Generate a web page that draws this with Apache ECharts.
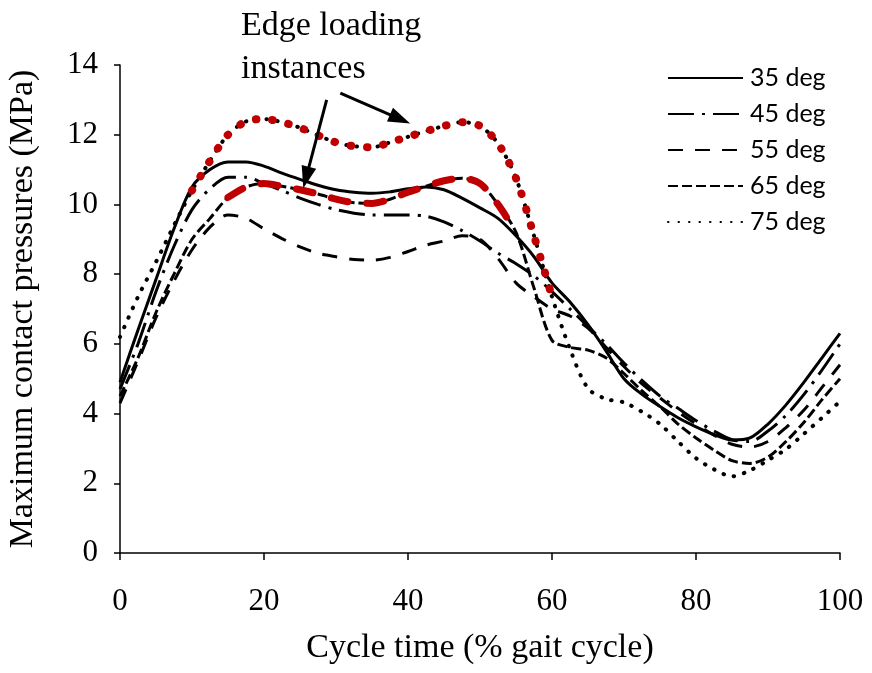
<!DOCTYPE html>
<html>
<head>
<meta charset="utf-8">
<script src="https://cdn.jsdelivr.net/npm/echarts@6/dist/echarts.min.js"></script>
<style>
html,body{margin:0;padding:0;background:#fff;}
#chart{width:872px;height:673px;}
</style>
</head>
<body>
<div id="chart"></div>
<script>
// Cycle time (% gait cycle)
const xs = [0,2.5,5,7.5,10,12.5,15,17.5,20,22.5,25,27.5,30,32.5,35,37.5,40,42.5,45,47.5,50,52.5,55,57.5,60,62.5,65,67.5,70,72.5,75,77.5,80,82.5,85,87.5,90,92.5,95,97.5,100];
// Maximum contact pressures (MPa)
const deg35 = [4.9,6.4,7.85,9.3,10.5,11.0,11.22,11.22,11.1,10.9,10.72,10.55,10.42,10.35,10.32,10.36,10.45,10.5,10.42,10.18,9.9,9.6,9.1,8.5,7.75,7.2,6.55,5.8,5.0,4.55,4.2,3.88,3.62,3.4,3.24,3.3,3.7,4.25,4.9,5.6,6.3];
const deg45 = [4.7,6.0,7.5,8.8,9.85,10.45,10.78,10.78,10.6,10.4,10.18,10.0,9.85,9.75,9.7,9.7,9.7,9.66,9.5,9.25,8.95,8.6,8.3,7.95,7.5,7.0,6.5,6.0,5.45,4.95,4.5,4.15,3.8,3.5,3.25,3.2,3.5,3.95,4.55,5.25,6.0];
const deg55 = [4.3,5.5,6.75,7.8,8.7,9.35,9.7,9.6,9.3,9.02,8.78,8.6,8.5,8.42,8.4,8.48,8.65,8.83,8.95,9.1,9.0,8.45,7.75,7.35,7.0,6.8,6.45,5.9,5.35,4.85,4.45,4.05,3.7,3.38,3.12,3.04,3.2,3.6,4.1,4.75,5.4];
const deg65 = [4.5,5.6,6.9,8.0,9.0,9.6,10.2,10.5,10.6,10.52,10.42,10.3,10.15,10.05,10.03,10.15,10.35,10.52,10.68,10.75,10.6,10.0,9.2,7.6,6.1,5.9,5.82,5.6,5.15,4.65,4.2,3.7,3.3,2.95,2.65,2.57,2.75,3.2,3.75,4.4,5.0];
const deg75 = [6.2,7.35,8.35,9.4,10.4,11.25,12.0,12.38,12.45,12.36,12.2,11.98,11.78,11.67,11.64,11.78,11.94,12.1,12.25,12.36,12.25,11.75,10.75,9.1,7.35,5.85,4.72,4.42,4.32,4.05,3.7,3.2,2.72,2.4,2.2,2.37,2.66,2.98,3.42,3.88,4.35];
const seriesNames = ['35 deg','45 deg','55 deg','65 deg','75 deg'];
// Edge loading ranges (x) highlighted in red
const edge65Range = [15, 55];
const edge75Range = [10, 60];
// annotation text and arrow anchors (data space: [x, MPa])
const noteText = ['Edge loading', 'instances'];
const arrowStart = [[28.7, 13.0], [30.6, 13.19]];
const arrowEnd = [[25.85, 10.77], [38.9, 12.45]];
const xTicks = [0, 100, 20];
const yTicks = [0, 14, 2];

function pairs(ys){ return xs.map((x,i)=>[x, ys[i]]); }
function subset(ys, r){ return xs.map((x,i)=>[x, ys[i]]).filter(p=>p[0]>=r[0] && p[0]<=r[1]); }

const serif = 'Liberation Serif';
const chart = echarts.init(document.getElementById('chart'), null, {renderer:'canvas'});
const sm = 0.3;
chart.setOption({
  animation:false,
  backgroundColor:'#fff',
  title:{
    text: noteText.join('\n'),
    left:236, top:0,
    textStyle:{fontFamily:serif, fontSize:34, fontWeight:'normal', color:'#000', lineHeight:43}
  },
  grid:{left:120, right:32, top:65, bottom:120, containLabel:false, outerBoundsMode:'none'},
  legend:{
    data: seriesNames,
    orient:'vertical',
    left:662, top:59,
    itemWidth:75, itemHeight:14, itemGap:8,
    itemStyle:{color:'rgba(0,0,0,0)', borderWidth:0, opacity:0},
    textStyle:{fontFamily:'Lato', fontSize:25, color:'#000', lineHeight:28, padding:[0,0,0,2]}
  },
  xAxis:{
    type:'value', min:xTicks[0], max:xTicks[1], interval:xTicks[2],
    name:'Cycle time (% gait cycle)', nameLocation:'middle', nameGap:78,
    nameTextStyle:{fontFamily:serif, fontSize:34, color:'#000'},
    axisLine:{lineStyle:{color:'#000', width:1.5}},
    axisTick:{show:true, inside:false, length:7, lineStyle:{color:'#000', width:1.5}},
    axisLabel:{fontFamily:serif, fontSize:31, color:'#000', margin:33},
    splitLine:{show:false}
  },
  yAxis:{
    type:'value', min:yTicks[0], max:yTicks[1], interval:yTicks[2],
    name:'Maximum contact pressures (MPa)', nameLocation:'middle', nameGap:80, nameRotate:90,
    nameTextStyle:{fontFamily:serif, fontSize:34, color:'#000'},
    axisLine:{show:true, lineStyle:{color:'#000', width:1.5}},
    axisTick:{show:true, inside:false, length:6, lineStyle:{color:'#000', width:1.5}},
    axisLabel:{fontFamily:serif, fontSize:31, color:'#000', margin:22},
    splitLine:{show:false}
  },
  series:[
    {name:seriesNames[0], type:'line', data:pairs(deg35), smooth:sm, showSymbol:false, symbol:'none',
     lineStyle:{color:'#000', width:3, type:'solid'}, itemStyle:{color:'#000'},
     markLine:{silent:true, symbol:['none','triangle'], symbolSize:[15,22], label:{show:false},
       lineStyle:{color:'#000', width:3, type:'solid'},
       data: arrowStart.map((s,i)=>[{coord:s},{coord:arrowEnd[i]}])}},
    {name:seriesNames[1], type:'line', data:pairs(deg45), smooth:sm, showSymbol:false, symbol:'none',
     lineStyle:{color:'#000', width:3, type:[26,8,3,8]}, itemStyle:{color:'#000'}},
    {name:seriesNames[2], type:'line', data:pairs(deg55), smooth:sm, showSymbol:false, symbol:'none',
     lineStyle:{color:'#000', width:3, type:[15,12]}, itemStyle:{color:'#000'}},
    {name:seriesNames[3], type:'line', data:pairs(deg65), smooth:sm, showSymbol:false, symbol:'none',
     lineStyle:{color:'#000', width:3, type:[10,4]}, itemStyle:{color:'#000'}},
    {name:seriesNames[4], type:'line', data:pairs(deg75), smooth:sm, showSymbol:false, symbol:'none',
     lineStyle:{color:'#000', width:4, type:[0.5,10], cap:'round'}, itemStyle:{color:'#000'}},
    {name:'edge65', type:'line', data:subset(deg65, edge65Range), smooth:sm, showSymbol:false, symbol:'none',
     lineStyle:{color:'#c00000', width:7, type:[17,19], cap:'round'}, itemStyle:{color:'#c00000'}},
    {name:'edge75', type:'line', data:subset(deg75, edge75Range), smooth:sm, showSymbol:false, symbol:'none',
     lineStyle:{color:'#c00000', width:8, type:[0.5,16], cap:'round'}, itemStyle:{color:'#c00000'}}
  ]
});
</script>
</body>
</html>
